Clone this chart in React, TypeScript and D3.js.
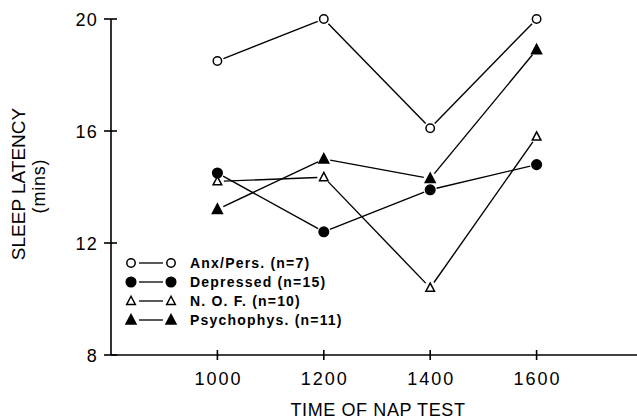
import React, { useEffect, useRef } from "react";
import * as d3 from "d3";

const times = [1000, 1200, 1400, 1600];
const yTicks = [8, 12, 16, 20];

const anxPers = [18.5, 20.0, 16.1, 20.0];
const depressed = [14.5, 12.4, 13.9, 14.8];
const nof = [14.2, 14.35, 10.4, 15.8];
const psychophys = [13.2, 15.0, 14.3, 18.9];

const seriesNames = ["Anx/Pers. (n=7)", "Depressed (n=15)", "N. O. F. (n=10)", "Psychophys. (n=11)"];
const seriesShapes = ["circleOpen", "circleFilled", "triOpen", "triFilled"];

const App = () => {
   const svgRef = useRef<SVGSVGElement>(null);

   useEffect(() => {
      const svg = d3.select(svgRef.current);
      svg.selectAll("*").remove();

      const x = d3.scaleLinear().domain([800, 1800]).range([111, 643]);
      const y = d3.scaleLinear().domain([8, 20]).range([355, 19]);

      const font = "'Liberation Sans', Arial, sans-serif";
      const allSeries = [anxPers, depressed, nof, psychophys];

      // draw a marker at a point
      const marker = (g, shape, cx, cy) => {
         if (shape.startsWith("circle")) {
            g.append("circle")
               .attr("cx", cx)
               .attr("cy", cy)
               .attr("r", shape === "circleOpen" ? 4.2 : 4.8)
               .attr("fill", shape === "circleOpen" ? "white" : "black")
               .attr("stroke", "black")
               .attr("stroke-width", 1.5);
         } else {
            const s = shape === "triOpen" ? 4.3 : 5;
            g.append("path")
               .attr("d", `M${cx},${cy - s * 1.1} L${cx + s},${cy + s * 0.8} L${cx - s},${cy + s * 0.8} Z`)
               .attr("fill", shape === "triOpen" ? "white" : "black")
               .attr("stroke", "black")
               .attr("stroke-width", 1.5)
               .attr("stroke-linejoin", "miter");
         }
      };

      // axes
      const axis = svg.append("g").attr("stroke", "black").attr("stroke-width", 1.6);
      axis.append("line").attr("x1", x(800)).attr("x2", x(800)).attr("y1", y(20)).attr("y2", y(8));
      axis.append("line").attr("x1", x(800)).attr("x2", 637).attr("y1", y(8)).attr("y2", y(8));

      yTicks.forEach((t) => {
         axis.append("line").attr("x1", 104).attr("x2", 117).attr("y1", y(t)).attr("y2", y(t));
      });
      times.forEach((t) => {
         axis.append("line").attr("x1", x(t)).attr("x2", x(t)).attr("y1", y(8) - 5).attr("y2", y(8) + 5);
      });

      svg.append("g")
         .selectAll("text")
         .data(yTicks)
         .enter()
         .append("text")
         .attr("x", 98)
         .attr("y", (d) => y(d) + 6.5)
         .attr("text-anchor", "end")
         .attr("font-family", font)
         .attr("font-size", 18)
         .attr("letter-spacing", 1.2)
         .text((d) => d);

      svg.append("g")
         .selectAll("text")
         .data(times)
         .enter()
         .append("text")
         .attr("x", (d) => x(d) + 1)
         .attr("y", 385)
         .attr("text-anchor", "middle")
         .attr("font-family", font)
         .attr("font-size", 18)
         .attr("letter-spacing", 2)
         .text((d) => d);

      svg.append("text")
         .attr("x", 378)
         .attr("y", 416)
         .attr("text-anchor", "middle")
         .attr("font-family", font)
         .attr("font-size", 18)
         .attr("letter-spacing", 0.6)
         .text("TIME OF NAP TEST");

      const yl = svg.append("g").attr("transform", "translate(0,184) rotate(-90)");
      yl.append("text")
         .attr("x", 0)
         .attr("y", 25)
         .attr("text-anchor", "middle")
         .attr("font-family", font)
         .attr("font-size", 19)
         .text("SLEEP LATENCY");
      yl.append("text")
         .attr("x", -2)
         .attr("y", 45)
         .attr("text-anchor", "middle")
         .attr("font-family", font)
         .attr("font-size", 18)
         .attr("letter-spacing", 0.8)
         .text("(mins)");

      // series lines, shortened so they stop at the markers
      const gap = 6.5;
      allSeries.forEach((vals, i) => {
         const pts = times.map((t, j) => [x(t), y(vals[j])]);
         const g = svg.append("g");
         d3.pairs(pts).forEach(([a, b]) => {
            const dx = b[0] - a[0];
            const dy = b[1] - a[1];
            const len = Math.hypot(dx, dy);
            const ux = dx / len;
            const uy = dy / len;
            g.append("line")
               .attr("x1", a[0] + ux * gap)
               .attr("y1", a[1] + uy * gap)
               .attr("x2", b[0] - ux * gap)
               .attr("y2", b[1] - uy * gap)
               .attr("stroke", "black")
               .attr("stroke-width", 1.4);
         });
         pts.forEach((p) => marker(g, seriesShapes[i], p[0], p[1]));
      });

      // legend
      const legend = svg.append("g");
      seriesNames.forEach((name, i) => {
         const ly = 263 + i * 19;
         marker(legend, seriesShapes[i], 131, ly);
         legend.append("line")
            .attr("x1", 139)
            .attr("x2", 163)
            .attr("y1", ly)
            .attr("y2", ly)
            .attr("stroke", "black")
            .attr("stroke-width", 1.3);
         marker(legend, seriesShapes[i], 171, ly);
         legend.append("text")
            .attr("x", 190)
            .attr("y", ly + 5)
            .attr("font-family", font)
            .attr("font-size", 14)
            .attr("font-weight", "bold")
            .attr("letter-spacing", 1.2)
            .text(name);
      });
   }, []);

   return (
      <svg
         ref={svgRef}
         width={637}
         height={420}
         style={{ position: "absolute", left: 0, top: 0, background: "white" }}
      ></svg>
   );
};

export default App;
